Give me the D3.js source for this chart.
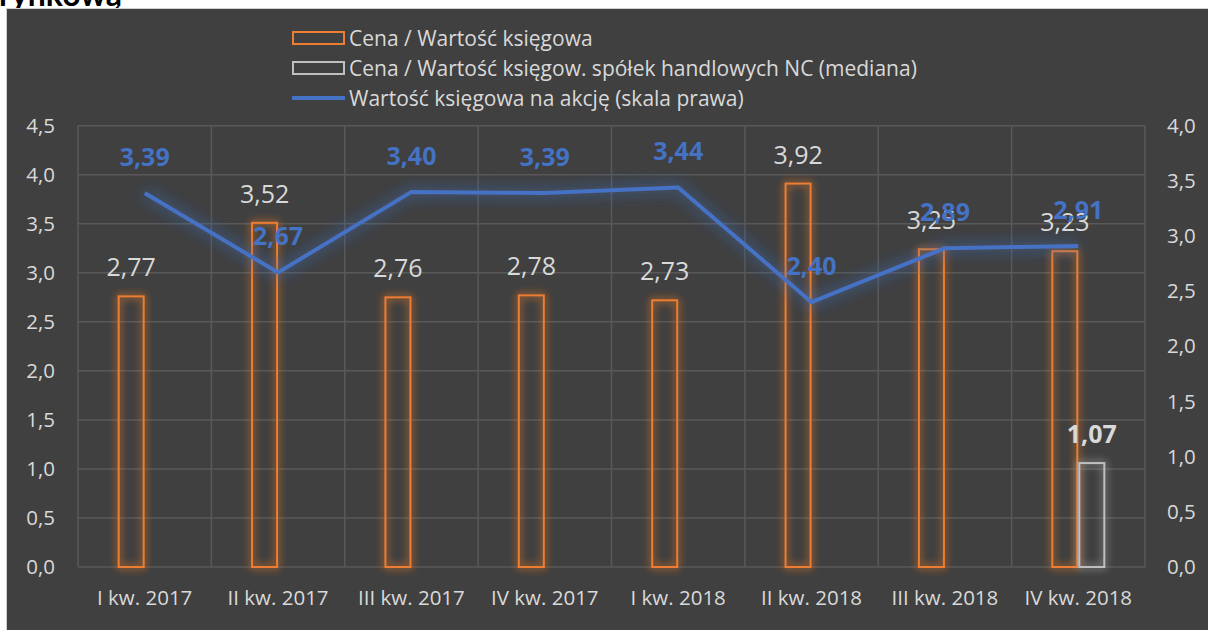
<!DOCTYPE html>
<html><head><meta charset="utf-8">
<script src="https://cdn.jsdelivr.net/npm/d3@7"></script>
<style>
html,body{margin:0;padding:0;background:#fff;}
svg{display:block;font-family:"Open Sans",Lato,sans-serif;}
</style></head>
<body>
<svg id="c" width="1208" height="630"></svg>
<script>
const categories = ["I kw. 2017","II kw. 2017","III kw. 2017","IV kw. 2017","I kw. 2018","II kw. 2018","III kw. 2018","IV kw. 2018"];
const priceToBook = [2.77,3.52,2.76,2.78,2.73,3.92,3.25,3.23];
const medianPB = [null,null,null,null,null,null,null,1.07];
const bookValuePerShare = [3.39,2.67,3.40,3.39,3.44,2.40,2.89,2.91];
const leftTicks = [0,0.5,1,1.5,2,2.5,3,3.5,4,4.5];
const rightTicks = [0,0.5,1,1.5,2,2.5,3,3.5,4];
const legendLabels = ["Cena / Wartość księgowa","Cena / Wartość księgow. spółek handlowych NC (mediana)","Wartość księgowa na akcję (skala prawa)"];

(function(){
const fmt = v => d3.format(".1f")(v).replace(".", ",");
const fmt2 = v => d3.format(".2f")(v).replace(".", ",");
const FF = "'Open Sans', Lato, sans-serif";

const svg = d3.select("#c");
const W=1208,H=630;
const bg="#404040", grid="#595959", txt="#d9d9d9", orange="#ed7d31", blue="#4472c4", grayBar="#bfbfbf";

svg.append("rect").attr("x",0).attr("y",0).attr("width",W).attr("height",H).attr("fill","#fff");
svg.append("text").attr("x",-1).attr("y",6).attr("font-size",32).attr("font-weight","bold").attr("fill","#000")
  .attr("font-family","Lato, sans-serif").text("rynkową");
svg.append("rect").attr("x",6).attr("y",8).attr("width",W-6).attr("height",H-8).attr("fill","#d0d0d0");
svg.append("rect").attr("x",7).attr("y",9).attr("width",W-7).attr("height",H-9).attr("fill",bg);

const defs = svg.append("defs");
function glow(id,color,sd,op){
  const f=defs.append("filter").attr("id",id).attr("x","-50%").attr("y","-50%").attr("width","200%").attr("height","200%");
  f.append("feGaussianBlur").attr("in","SourceAlpha").attr("stdDeviation",sd).attr("result","b");
  f.append("feFlood").attr("flood-color",color).attr("flood-opacity",op);
  f.append("feComposite").attr("in2","b").attr("operator","in").attr("result","g");
  const m=f.append("feMerge"); m.append("feMergeNode").attr("in","g"); m.append("feMergeNode").attr("in","g"); m.append("feMergeNode").attr("in","SourceGraphic");
}
glow("gO",orange,4.5,0.7);
glow("gG","#bfbfbf",4.5,0.6);
glow("gB",blue,8,0.6);

const pl=78,pr=1145,pt=125.7,pb=567;
const x = d3.scaleBand().domain(categories).range([pl,pr]).padding(0);
const yL = d3.scaleLinear().domain([0,4.5]).range([pb,pt]);
const yR = d3.scaleLinear().domain([0,4]).range([pb,pt]);
const barW = 27;
const sub = d3.scaleBand().domain(["a","b"]).range([-barW, barW]);

const g = svg.append("g");
g.selectAll("line.h").data(leftTicks).join("line")
  .attr("x1",pl).attr("x2",pr).attr("y1",d=>yL(d)).attr("y2",d=>yL(d))
  .attr("stroke",grid).attr("stroke-width",1.5);
g.selectAll("line.v").data(d3.range(categories.length+1)).join("line")
  .attr("x1",i=>pl+i*x.bandwidth()).attr("x2",i=>pl+i*x.bandwidth())
  .attr("y1",pt).attr("y2",pb).attr("stroke",grid).attr("stroke-width",1.5);

const axL = svg.append("g").attr("transform",`translate(${pl-23},0)`)
  .call(d3.axisLeft(yL).tickValues(leftTicks).tickFormat(fmt).tickSize(0).tickPadding(0));
const axR = svg.append("g").attr("transform",`translate(${pr+22},0)`)
  .call(d3.axisRight(yR).tickValues(rightTicks).tickFormat(fmt).tickSize(0).tickPadding(0));
const axX = svg.append("g").attr("transform",`translate(0,${pb+20})`)
  .call(d3.axisBottom(x).tickSize(0).tickPadding(0));
[axL,axR,axX].forEach(a=>{a.select(".domain").remove();
  a.selectAll("text").attr("fill",txt).attr("font-size",20.5).attr("font-family",FF);});
axX.selectAll("text").attr("dy","0.9em");

const bars = svg.append("g");
const pbData = categories.map((c,i)=>({c,v:priceToBook[i]}));
bars.selectAll("rect.o").data(pbData).join("rect")
  .attr("x",d=>x(d.c)+x.bandwidth()/2+sub("a")+1).attr("width",sub.bandwidth()-2)
  .attr("y",d=>yL(d.v)+1).attr("height",d=>pb-yL(d.v)-1)
  .attr("fill","none").attr("stroke",orange).attr("stroke-width",2).attr("filter","url(#gO)");
const mdData = categories.map((c,i)=>({c,v:medianPB[i]})).filter(d=>d.v!=null);
bars.selectAll("rect.g").data(mdData).join("rect")
  .attr("x",d=>x(d.c)+x.bandwidth()/2+sub("b")+1).attr("width",sub.bandwidth()-2)
  .attr("y",d=>yL(d.v)+1).attr("height",d=>pb-yL(d.v)-1)
  .attr("fill","none").attr("stroke",grayBar).attr("stroke-width",2).attr("filter","url(#gG)");

const lineData = categories.map((c,i)=>({c,v:bookValuePerShare[i]}));
const line = d3.line().x(d=>x(d.c)+x.bandwidth()/2).y(d=>yR(d.v));
svg.append("path").datum(lineData).attr("d",line).attr("fill","none")
  .attr("stroke",blue).attr("stroke-width",4).attr("stroke-linejoin","round").attr("filter","url(#gB)");

svg.append("g").selectAll("text").data(pbData).join("text")
  .attr("x",d=>x(d.c)+x.bandwidth()/2+sub("a")+sub.bandwidth()/2).attr("y",d=>yL(d.v)-19)
  .attr("text-anchor","middle").attr("font-size",25).attr("fill",txt).attr("font-family",FF).text(d=>fmt2(d.v));
svg.append("g").selectAll("text").data(mdData).join("text")
  .attr("x",d=>x(d.c)+x.bandwidth()/2+sub("b")+sub.bandwidth()/2).attr("y",d=>yL(d.v)-19)
  .attr("text-anchor","middle").attr("font-size",25).attr("font-weight","bold").attr("fill",txt).attr("font-family",FF).text(d=>fmt2(d.v));
svg.append("g").selectAll("text").data(lineData).join("text")
  .attr("x",d=>x(d.c)+x.bandwidth()/2).attr("y",d=>yR(d.v)-27)
  .attr("text-anchor","middle").attr("font-size",25).attr("font-weight","bold").attr("fill",blue).attr("font-family",FF).text(d=>fmt2(d.v));

const lg = svg.append("g").attr("font-size",21).attr("fill",txt).attr("font-family",FF);
const ly=[38,68,98];
lg.append("rect").attr("x",293).attr("y",ly[0]-6).attr("width",51).attr("height",12).attr("fill","none").attr("stroke",orange).attr("stroke-width",2);
lg.append("rect").attr("x",293).attr("y",ly[1]-6).attr("width",51).attr("height",12).attr("fill","none").attr("stroke",grayBar).attr("stroke-width",2);
lg.append("line").attr("x1",292).attr("x2",345).attr("y1",ly[2]).attr("y2",ly[2]).attr("stroke",blue).attr("stroke-width",4);
lg.selectAll("text").data(legendLabels).join("text").attr("x",349).attr("y",(d,i)=>ly[i]+7.5).text(d=>d);
})();
</script>
</body></html>
